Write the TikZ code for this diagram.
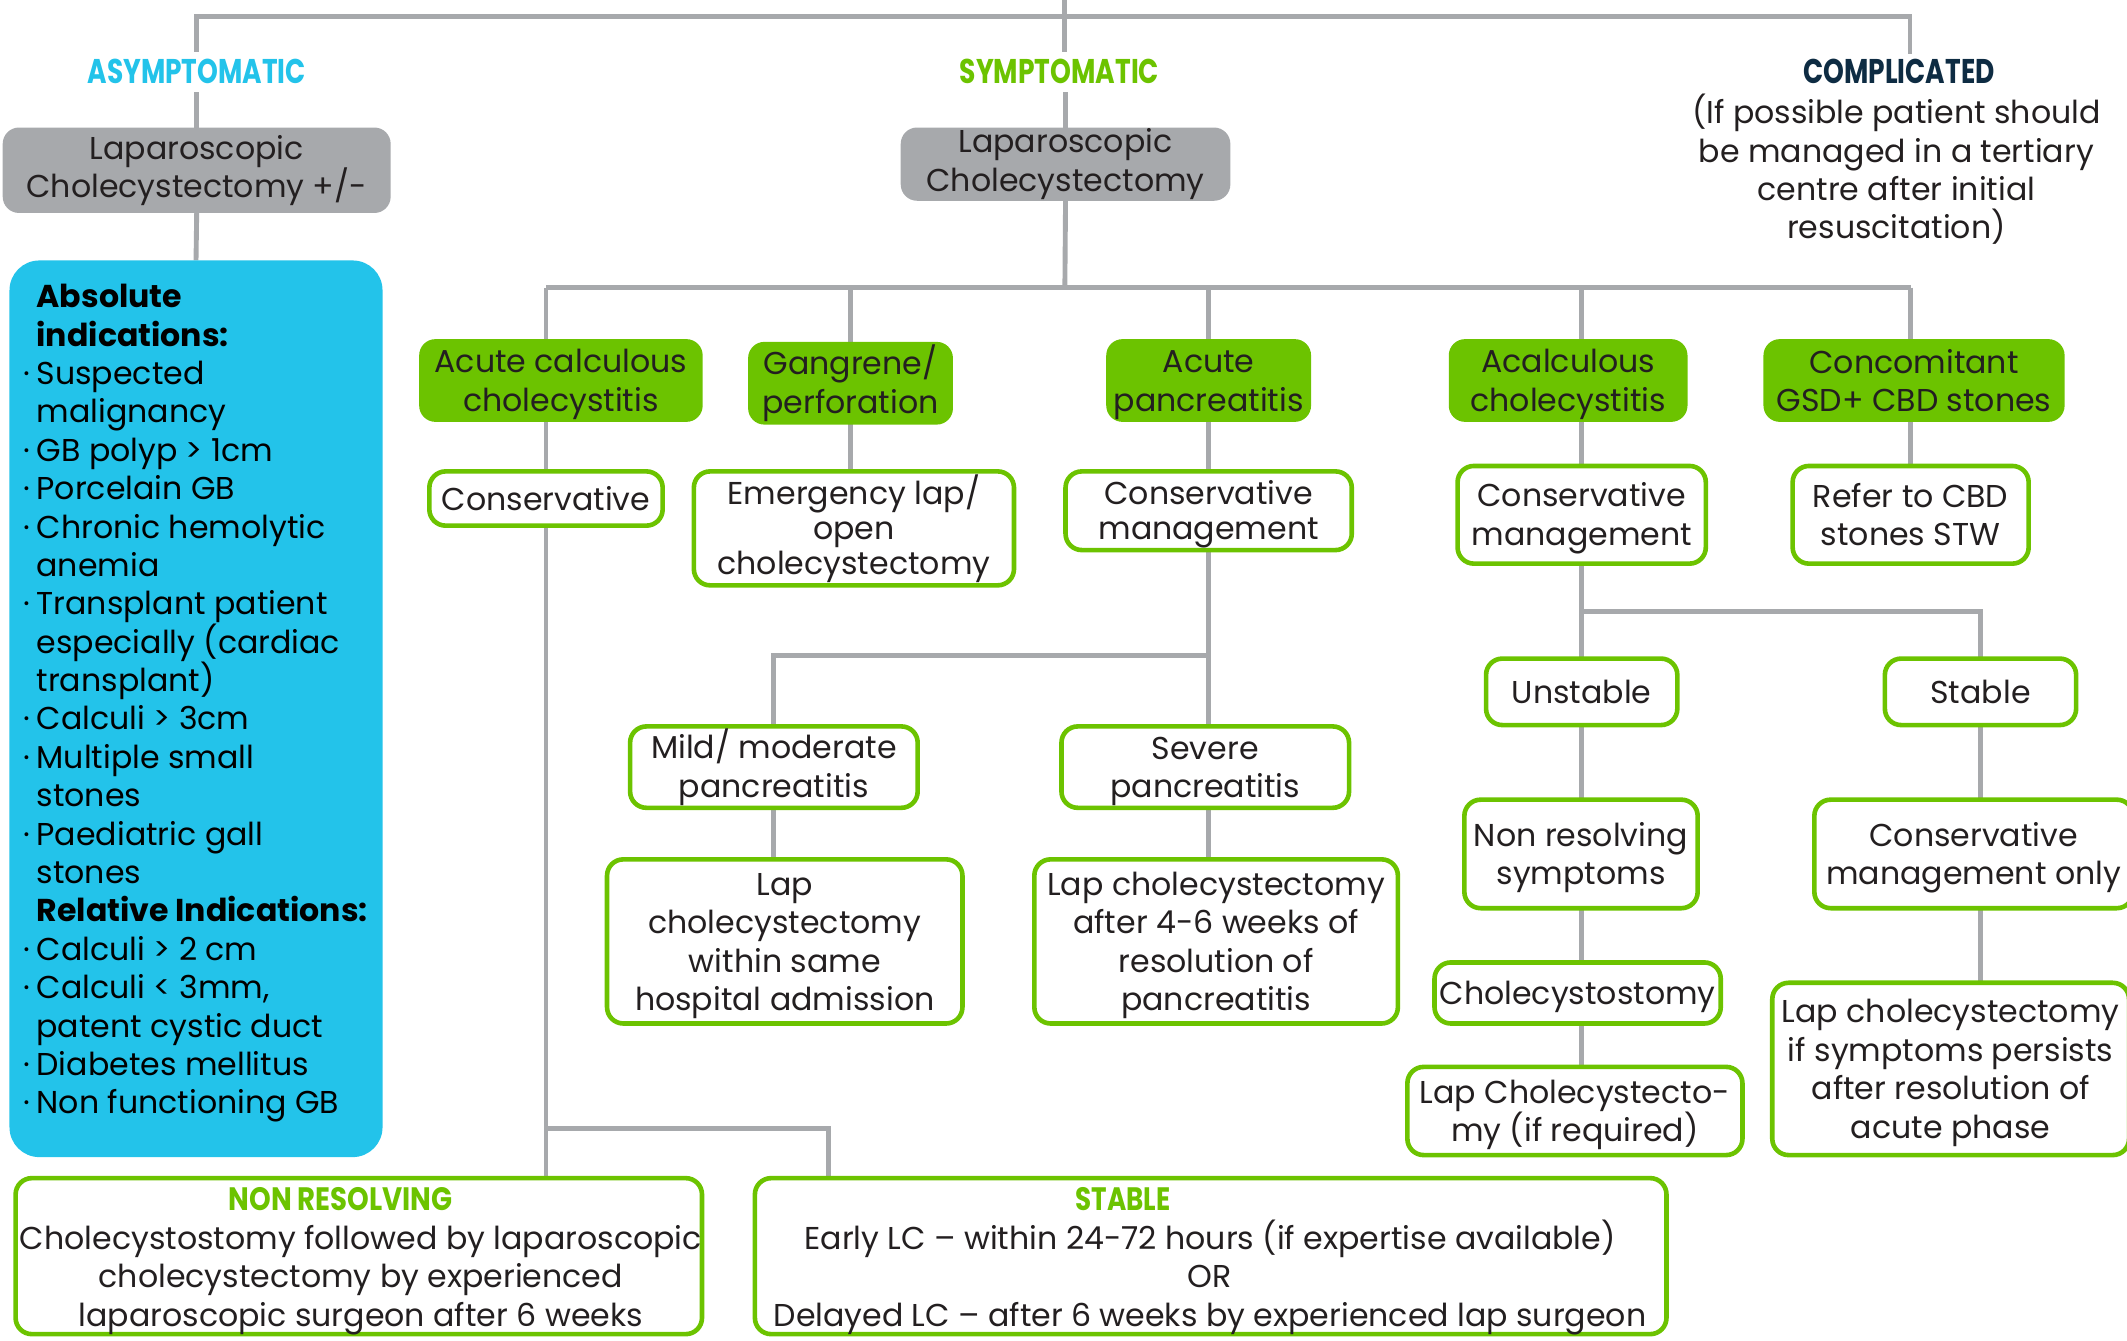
\documentclass[tikz,border=0pt]{standalone}
\usepackage{fontspec}
\usepackage{graphicx}
\setmainfont{Poppins}
\usetikzlibrary{backgrounds}
\definecolor{cgreen}{HTML}{6CC300}
\definecolor{ccyan}{HTML}{23C3EA}
\definecolor{cgray}{HTML}{A7A9AC}
\definecolor{cnavy}{HTML}{0E2C43}
\definecolor{ctext}{HTML}{231F20}
\newcommand{\hdr}[4]{\resizebox{#1pt}{#2pt}{\textbf{\color{#3}#4}}}
\newcommand{\topst}{\rule{0pt}{23pt}}
\newcommand{\botst}{\rule[-5pt]{0pt}{0pt}}
\begin{document}
\begin{tikzpicture}[x=1pt,y=-1pt,
  every node/.style={inner sep=0pt, outer sep=0pt, text=ctext, align=center,
    font=\fontsize{23.3}{28.3}\selectfont},
  lab/.style={minimum height=30pt, minimum width=20pt},
  graybox/.style 2 args={fill=cgray, rounded corners=12pt, minimum width=#1, minimum height=#2},
  gbox/.style 2 args={fill=cgreen, rounded corners=12pt, minimum width=#1, minimum height=#2},
  wbox/.style 2 args={draw=cgreen, line width=3.4pt, fill=white, rounded corners=12pt,
    minimum width=#1-3pt, minimum height=#2-3pt},
  conn/.style={draw=cgray, line width=3.6pt},
  tight/.style={font=\fontsize{23.3}{25.8}\selectfont}
]
\useasboundingbox (0,0) rectangle (1568,988);

% top labels
\coordinate (topc) at (785,0);
\coordinate (tj) at (785,12);
\coordinate (ctop) at (1408,40);
\node[lab] (asy) at (145,53) {\hdr{161}{18}{ccyan}{ASYMPTOMATIC}};
\node[lab] (sym) at (781,53) {\hdr{147}{18}{cgreen}{SYMPTOMATIC}};
\node[lab] (comp) at (1400,53) {\hdr{141}{18}{cnavy}{COMPLICATED}};
\node (compt) at (1398,125) {(If possible patient should\\be managed in a tertiary\\centre after initial\\resuscitation)};

% gray boxes
\node[graybox={286pt}{63pt}] (g1) at (145,125.5) {Laparoscopic\\Cholecystectomy +/-};
\node[graybox={243pt}{54pt}] (g2) at (785.5,121) {Laparoscopic\\Cholecystectomy};

% blue box
\node[fill=ccyan, rounded corners=22pt, minimum width=275pt, minimum height=661pt] (blue) at (144.5,522.5) {};
\node[align=left, text=black, anchor=west] (bluet) at (17,518.5) {%
\hspace*{10pt}\textbf{Absolute}\\
\hspace*{10pt}\textbf{indications:}\\
\makebox[10pt][l]{·}Suspected\\
\hspace*{10pt}malignancy\\
\makebox[10pt][l]{·}GB polyp > 1cm\\
\makebox[10pt][l]{·}Porcelain GB\\
\makebox[10pt][l]{·}Chronic hemolytic\\
\hspace*{10pt}anemia\\
\makebox[10pt][l]{·}Transplant patient\\
\hspace*{10pt}especially (cardiac\\
\hspace*{10pt}transplant)\\
\makebox[10pt][l]{·}Calculi > 3cm\\
\makebox[10pt][l]{·}Multiple small\\
\hspace*{10pt}stones\\
\makebox[10pt][l]{·}Paediatric gall\\
\hspace*{10pt}stones\\
\hspace*{10pt}\textbf{Relative Indications:}\\
\makebox[10pt][l]{·}Calculi > 2 cm\\
\makebox[10pt][l]{·}Calculi < 3mm,\\
\hspace*{10pt}patent cystic duct\\
\makebox[10pt][l]{·}Diabetes mellitus\\
\makebox[10pt][l]{·}Non functioning GB};

% green filled boxes
\node[gbox={209pt}{61pt}] (acc) at (413.5,280.5) {\topst Acute calculous\\cholecystitis\botst};
\node[gbox={151pt}{61pt}] (gang) at (627,282.5) {Gangrene/\\perforation};
\node[gbox={151pt}{61pt}] (apan) at (891,280.5) {\topst Acute\\pancreatitis\botst};
\node[gbox={176pt}{61pt}] (acal) at (1156,280.5) {\topst Acalculous\\cholecystitis\botst};
\node[gbox={222pt}{61pt}] (conc) at (1411,280.5) {Concomitant\\GSD+ CBD stones};

% white boxes
\node[wbox={175pt}{43pt}] (cons) at (402.5,367.5) {Conservative};
\node[wbox={239pt}{87pt}, tight] (emer) at (629.5,389.5) {Emergency lap/\\open\\cholecystectomy};
\node[wbox={214pt}{61pt}, tight] (cm1) at (891,376.5) {\topst Conservative\\management\botst};
\node[wbox={186pt}{75pt}] (cm2) at (1166,379.5) {\topst Conservative\\management\botst};
\node[wbox={177pt}{75pt}] (refer) at (1408.5,379.5) {Refer to CBD\\stones STW};
\node[wbox={215pt}{63pt}] (mild) at (570.5,565.5) {Mild/ moderate\\pancreatitis};
\node[wbox={215pt}{63pt}] (sev) at (888.5,565.5) {\topst Severe\\pancreatitis\botst};
\node[wbox={265pt}{124pt}] (lap1) at (578.5,694) {\topst Lap\\cholecystectomy\\within same\\hospital admission\botst};
\node[wbox={271pt}{124pt}] (lap2) at (896.5,694) {\topst Lap cholecystectomy\\after 4-6 weeks of\\resolution of\\pancreatitis\botst};
\node[wbox={144pt}{52pt}] (unst) at (1166,510) {Unstable};
\node[wbox={144pt}{52pt}] (stab) at (1460,510) {Stable};
\node[wbox={175pt}{83pt}] (nonres) at (1165.5,629.5) {\topst Non resolving\\symptoms\botst};
\node[wbox={214pt}{48pt}] (chst) at (1163,732) {\topst Cholecystostomy\botst};
\node[wbox={250pt}{68pt}] (lapc) at (1161,819) {\topst Lap Cholecystecto-\\my (if required)\botst};
\node[wbox={238pt}{83pt}] (consonly) at (1455,629.5) {\topst Conservative\\management only\botst};
\node[wbox={266pt}{130pt}] (lapsym) at (1438,788) {\topst Lap cholecystectomy\\if symptoms persists\\after resolution of\\acute phase\botst};

% bottom boxes
\node[wbox={509pt}{118pt}] (nr) at (264.5,926) {};
\node (nrh) at (251,884) {\hdr{165}{17}{cgreen}{NON RESOLVING}};
\node (nrt) at (266,943.5) {Cholecystostomy followed by laparoscopic\\cholecystectomy by experienced\\laparoscopic surgeon after 6 weeks};
\node[wbox={675pt}{118pt}] (st) at (892.5,926) {};
\node (sth) at (828,884) {\hdr{70}{17}{cgreen}{STABLE}};
\node (stt) at (892,941.5) {Early LC -- within 24-72 hours (if expertise available)\\OR\\Delayed LC -- after 6 weeks by experienced lap surgeon};

% connector coordinates
\coordinate (hj) at (785,212);
\coordinate (bj) at (402.5,832);
\coordinate (stin) at (611,872);
\coordinate (pj) at (891,483);
\coordinate (aj) at (1166,451);

\begin{scope}[on background layer]
\draw[conn] (topc) -- (tj);
\draw[conn] (asy.north) |- (tj) -| (ctop);
\draw[conn] (tj) -- (tj |- sym.north);
\draw[conn] (asy.south) -- (g1.north);
\draw[conn] (g1.south) -- (blue.north);
\draw[conn] (g2.north) -- (g2.north |- sym.south);
\draw[conn] (g2.south) -- (hj);
\draw[conn] (cons.center |- hj) -- (refer.center |- hj);
\draw[conn] (cons.center |- hj) -- (cons.center) -- (cons.center |- nr.north);
\draw[conn] (bj) -| (stin);
\draw[conn] (gang.center |- hj) -- (gang.center) -- (gang.center |- emer.north);
\draw[conn] (apan.center |- hj) -- (cm1.center) -- (cm1.center |- lap2.north);
\draw[conn] (pj) -| (mild.center) -- (mild.center |- lap1.north);
\draw[conn] (cm2.center |- hj) -- (cm2.center |- lapc.north);
\draw[conn] (aj) -| (stab.center) -- (stab.center |- lapsym.north);
\draw[conn] (refer.center |- hj) -- (refer.center);
\end{scope}
\end{tikzpicture}
\end{document}
